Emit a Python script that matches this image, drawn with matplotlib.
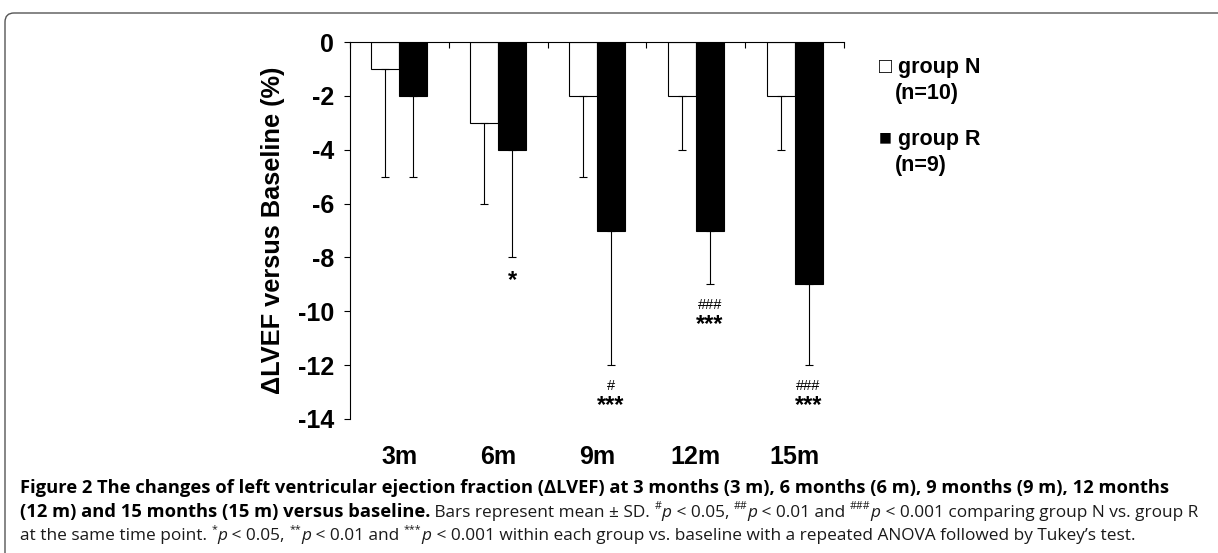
import matplotlib
matplotlib.use("Agg")
import matplotlib.pyplot as plt
import numpy as np
from matplotlib.patches import FancyBboxPatch
from matplotlib.transforms import IdentityTransform

# ---- du lieu doc tu hinh ----
periods = ["3m", "6m", "9m", "12m", "15m"]
group_n_mean = [-1, -3, -2, -2, -2]
group_n_sd = [4, 3, 3, 2, 2]
group_r_mean = [-2, -4, -7, -7, -9]
group_r_sd = [3, 4, 5, 2, 3]
sig_vs_n = ["", "", "#", "###", "###"]          # group N vs group R
sig_vs_base = ["", "*", "***", "***", "***"]    # vs baseline
yticks = [0, -2, -4, -6, -8, -10, -12, -14]

W, H, DPI = 1218, 553, 100
plt.rcParams["axes.unicode_minus"] = False
CHART_FONT = ["Liberation Sans", "DejaVu Sans"]
CAP_FONT = ["Open Sans", "DejaVu Sans"]

fig = plt.figure(figsize=(W / DPI, H / DPI), dpi=DPI)
ax = fig.add_axes([350 / W, 1 - 419 / H, 494 / W, 377 / H])

x = np.arange(len(periods))
bw = 0.283
ax.bar(x - bw / 2, group_n_mean, bw, color="white", edgecolor="black", linewidth=0.8,
       yerr=[group_n_sd, [0] * len(x)],
       error_kw=dict(ecolor="black", elinewidth=0.8, capsize=3, capthick=0.8))
ax.bar(x + bw / 2, group_r_mean, bw, color="black", edgecolor="black", linewidth=0.8,
       yerr=[group_r_sd, [0] * len(x)],
       error_kw=dict(ecolor="black", elinewidth=0.8, capsize=3, capthick=0.8))

# dau sao / dau thang duoi thanh sai so cua group R
for i in range(len(x)):
    end = group_r_mean[i] - group_r_sd[i]
    off = 0
    if sig_vs_n[i]:
        ax.annotate(sig_vs_n[i], (x[i] + bw / 2, end), xytext=(0, -18), textcoords="offset points",
                    ha="center", va="baseline", fontsize=10.5, family=CHART_FONT)
        off = 12.5
    if sig_vs_base[i]:
        ax.annotate(sig_vs_base[i], (x[i] + bw / 2, end), xytext=(0, -21 - off), textcoords="offset points",
                    ha="center", va="baseline", fontsize=17, fontweight="bold", family=CHART_FONT)

ax.set_xlim(-0.5, len(x) - 0.5)
ax.set_ylim(-14, 0)
ax.spines["right"].set_visible(False)
ax.spines["bottom"].set_visible(False)
ax.spines["left"].set_linewidth(0.8)
ax.spines["top"].set_linewidth(0.8)

ax.set_xticks(x)
ax.set_xticklabels(periods, fontsize=18, fontweight="bold", family=CHART_FONT)
ax.set_xticks(np.arange(len(x) + 1) - 0.5, minor=True)
ax.tick_params(axis="x", which="major", bottom=False, top=False, labelbottom=True, pad=15)
ax.tick_params(axis="x", which="minor", bottom=False, top=True, direction="in", length=4, width=0.8)

ax.set_yticks(yticks)
ax.set_yticklabels([str(v) for v in yticks], fontsize=18, fontweight="bold", family=CHART_FONT)
ax.tick_params(axis="y", direction="out", length=4.5, width=0.8, pad=7)
ax.set_ylabel("\u0394LVEF versus Baseline (%)", fontsize=18.3, fontweight="bold", family=CHART_FONT)
ax.yaxis.set_label_coords(-0.1316, 0.5)

# chu thich (legend) ve bang chu
LS = 15.5
fig.text(879 / W, 1 - 68 / H, "\u25a1 group N", fontsize=LS, fontweight="bold",
         family=CHART_FONT, va="center")
fig.text(895 / W, 1 - 93 / H, "(n=10)", fontsize=LS, fontweight="bold",
         family=CHART_FONT, va="center")
fig.text(879 / W, 1 - 140 / H, "\u25a0 group R", fontsize=LS, fontweight="bold",
         family=CHART_FONT, va="center")
fig.text(895 / W, 1 - 166 / H, "(n=9)", fontsize=LS, fontweight="bold",
         family=CHART_FONT, va="center")

# khung vien bo tron
frame = FancyBboxPatch((5, -60), 1300, H - 13 + 60, boxstyle="round,pad=0,rounding_size=9",
                       transform=IdentityTransform(), facecolor="none", edgecolor="#555555",
                       linewidth=1.0)
fig.patches.append(frame)

# ---- caption: ghep tung doan chu ----
renderer = fig.canvas.get_renderer()
CS = 12.4      # chu thuong
CB = 13.2      # chu dam


def run_line(parts, y_px, x_px=20):
    cur = x_px
    for txt, kind in parts:
        kw = dict(family=CAP_FONT, fontsize=CS, va="baseline", transform=IdentityTransform(),
                  color="#1a1a1a")
        yb = H - y_px
        if kind == "b":
            kw["fontweight"] = "bold"
            kw["fontsize"] = CB
            kw["color"] = "black"
        elif kind == "i":
            kw["style"] = "italic"
        elif kind == "sup":
            kw["fontsize"] = CS * 0.62
            yb += CS * 0.45 * DPI / 72
        t = fig.text(cur, yb, txt, **kw)
        cur += t.get_window_extent(renderer).width
    return cur


run_line([("Figure 2 ", "b"),
          ("The changes of left ventricular ejection fraction (\u0394LVEF) at 3 months (3 m), "
           "6 months (6 m), 9 months (9 m), 12 months", "b")], 493)
run_line([("(12 m) and 15 months (15 m) versus baseline.", "b"),
          (" Bars represent mean \u00b1 SD. ", "r"), ("#", "sup"), ("p", "i"), (" < 0.05, ", "r"),
          ("##", "sup"), ("p", "i"), (" < 0.01 and ", "r"), ("###", "sup"), ("p", "i"),
          (" < 0.001 comparing group N vs. group R", "r")], 517)
run_line([("at the same time point. ", "r"), ("*", "sup"), ("p", "i"), (" < 0.05, ", "r"),
          ("**", "sup"), ("p", "i"), (" < 0.01 and ", "r"), ("***", "sup"), ("p", "i"),
          (" < 0.001 within each group vs. baseline with a repeated ANOVA followed by Tukey\u2019s test.", "r")],
         540)

fig.savefig("out.png", dpi=DPI)
